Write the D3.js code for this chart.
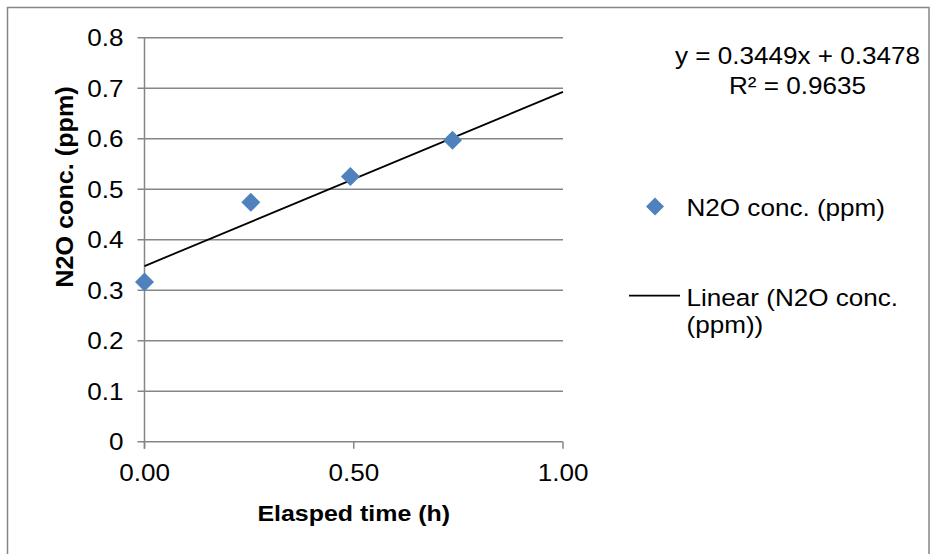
<!DOCTYPE html>
<html>
<head>
<meta charset="utf-8">
<script src="https://cdn.jsdelivr.net/npm/d3@7"></script>
<style>
  html, body { margin: 0; padding: 0; background: #fff; }
  svg { display: block; font-family: "Liberation Sans", Arial, sans-serif; }
</style>
</head>
<body>
<svg id="chart" width="931" height="554"></svg>
<script>
// ---- data ----
const elapsedTime = [0, 0.254, 0.492, 0.736];
const n2oConc = [0.316, 0.474, 0.525, 0.597];
const trendSlope = 0.3449;
const trendIntercept = 0.3478;
const yTicks = [0, 0.1, 0.2, 0.3, 0.4, 0.5, 0.6, 0.7, 0.8];
const xTicks = [0, 0.5, 1.0];
const equationLabel = "y = 0.3449x + 0.3478";
const r2Label = "R² = 0.9635";
const seriesName = "N2O conc. (ppm)";
const trendNameLines = ["Linear (N2O conc.", "(ppm))"];
const xTitle = "Elasped time (h)";
const yTitle = "N2O conc. (ppm)";

// ---- layout ----
const svg = d3.select("#chart");
const plot = { left: 144.5, right: 563, top: 37.7, bottom: 441.7 };
const x = d3.scaleLinear().domain([0, 1]).range([plot.left, plot.right]);
const y = d3.scaleLinear().domain([0, 0.8]).range([plot.bottom, plot.top]);
const grey = "#868686";
const FS = 23.5;
const SX = 1.11; // horizontal glyph stretch seen in the reference

function label(px, py, str, opt = {}) {
  const size = opt.size || FS;
  const sx = opt.sx || SX;
  const rot = opt.rotate ? ` rotate(${opt.rotate})` : "";
  return svg.append("text")
    .attr("transform", `translate(${px},${py})${rot} scale(${sx},1)`)
    .attr("text-anchor", opt.anchor || "start")
    .attr("font-size", size)
    .attr("font-weight", opt.weight || "normal")
    .attr("fill", "#000")
    .text(str);
}

// outer chart border
svg.append("rect")
  .attr("x", 7.5).attr("y", 7.5)
  .attr("width", 921.5).attr("height", 560)
  .attr("fill", "none").attr("stroke", grey).attr("stroke-width", 1.5);

// gridlines
svg.append("g").selectAll("line").data(yTicks).join("line")
  .attr("x1", plot.left - 7).attr("x2", plot.right)
  .attr("y1", d => y(d)).attr("y2", d => y(d))
  .attr("stroke", grey).attr("stroke-width", 1.5);

// y axis line
svg.append("line")
  .attr("x1", plot.left).attr("x2", plot.left)
  .attr("y1", plot.top).attr("y2", plot.bottom + 7)
  .attr("stroke", grey).attr("stroke-width", 1.5);

// x tick marks
svg.append("g").selectAll("line").data(xTicks).join("line")
  .attr("x1", d => x(d)).attr("x2", d => x(d))
  .attr("y1", plot.bottom).attr("y2", plot.bottom + 7)
  .attr("stroke", grey).attr("stroke-width", 1.5);

// y tick labels
yTicks.forEach(t => {
  label(123.5, y(t) + 8.3, d3.format("")(+t.toFixed(1)), { anchor: "end" });
});

// x tick labels
xTicks.forEach(t => {
  label(x(t), 481, d3.format(".2f")(t), { anchor: "middle" });
});

// axis titles
label((plot.left + plot.right) / 2, 521, xTitle, { anchor: "middle", weight: "bold", size: 23, sx: 1.085 });
label(72.5, 187, yTitle, { anchor: "middle", weight: "bold", rotate: -90, size: 24, sx: 1.05 });

// trendline
const trend = d3.line().x(d => x(d)).y(d => y(trendSlope * d + trendIntercept));
svg.append("path")
  .attr("d", trend([0, 1]))
  .attr("fill", "none").attr("stroke", "#000").attr("stroke-width", 1.8);

// points (diamonds)
const diamondPath = "M0,-9.5L9.5,0L0,9.5L-9.5,0Z";
svg.append("g").selectAll("path").data(elapsedTime).join("path")
  .attr("d", diamondPath)
  .attr("transform", (d, i) => `translate(${x(d)},${y(n2oConc[i])})`)
  .attr("fill", "#4F81BD");

// trendline equation
label(797.5, 63.5, equationLabel, { anchor: "middle" });
label(797.5, 93.5, r2Label, { anchor: "middle" });

// legend
svg.append("path").attr("d", "M0,-9L9,0L0,9L-9,0Z")
  .attr("transform", "translate(655,206.5)").attr("fill", "#4F81BD");
label(686.5, 215.5, seriesName);
svg.append("line").attr("x1", 629).attr("x2", 680).attr("y1", 295.7).attr("y2", 295.7)
  .attr("stroke", "#000").attr("stroke-width", 1.8);
label(686.5, 305.5, trendNameLines[0]);
label(686.5, 333, trendNameLines[1]);
</script>
</body>
</html>
